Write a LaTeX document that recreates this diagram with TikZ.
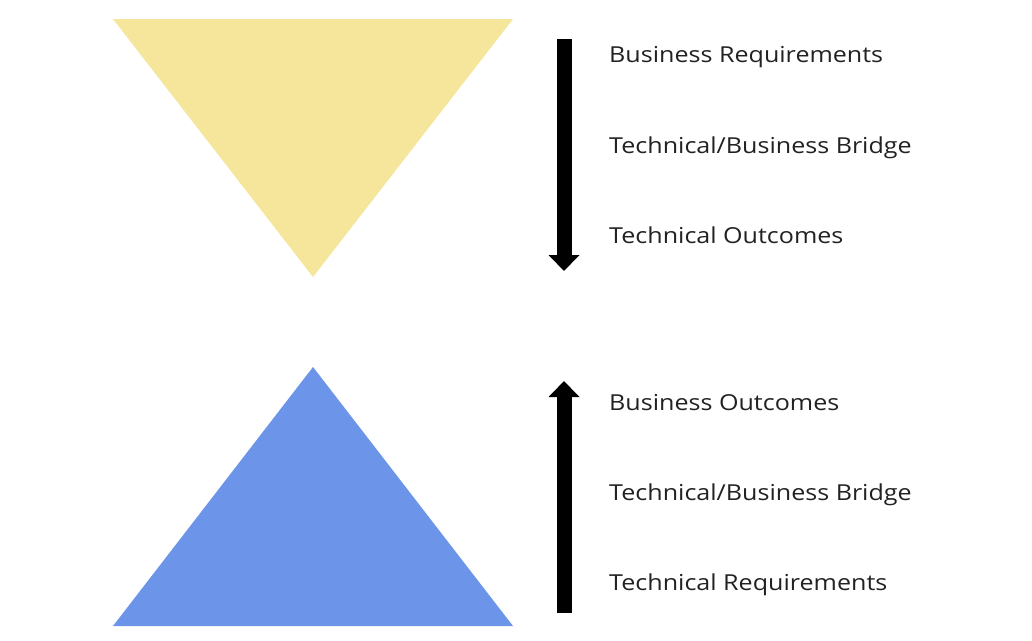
\documentclass[tikz,border=0pt]{standalone}
\usepackage{fontspec}
\setmainfont{Open Sans}[FakeStretch=1.14]
\usetikzlibrary{arrows.meta}
\definecolor{tyellow}{RGB}{245,230,155}
\definecolor{tblue}{RGB}{108,149,234}
\definecolor{txt}{RGB}{34,34,34}
\begin{document}
\begin{tikzpicture}[x=1pt,y=-1pt,
  lbl/.style={anchor=base west,inner sep=0pt,text=txt,font=\fontsize{22}{26}\selectfont},
  bigarrow/.style={line width=15pt,-{Triangle[width=30pt,length=16pt]}}]
\useasboundingbox[fill=white] (0,0) rectangle (1032,640);
% triangles
\fill[tyellow] (113,19) -- (513,19) -- (313,277) -- cycle;
\fill[tblue] (313,367) -- (513,626) -- (113,626) -- cycle;
% arrows
\coordinate (a1s) at (564,39);
\coordinate (a1e) at (564,271);
\coordinate (a2s) at (564,613);
\coordinate (a2e) at (564,381);
\draw[bigarrow] (a1s) -- (a1e);
\draw[bigarrow] (a2s) -- (a2e);
% labels
\node[lbl] (t1) at (609,62) {Business Requirements};
\node[lbl] (t2) at (609,153) {Technical/Business Bridge};
\node[lbl] (t3) at (609,243) {Technical Outcomes};
\node[lbl] (b1) at (609,410) {Business Outcomes};
\node[lbl] (b2) at (609,500) {Technical/Business Bridge};
\node[lbl] (b3) at (609,590) {Technical Requirements};
\end{tikzpicture}
\end{document}
